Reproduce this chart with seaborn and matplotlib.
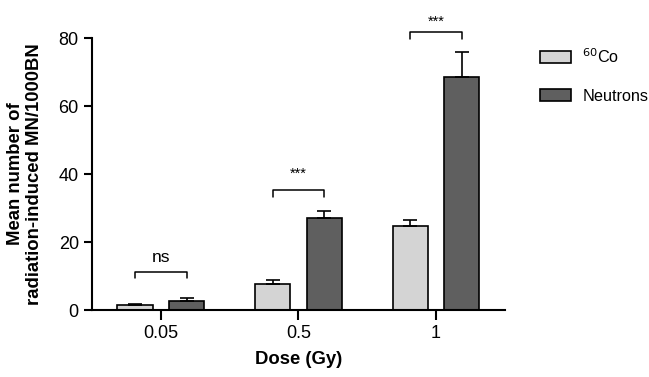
import numpy as np
import pandas as pd
import matplotlib
matplotlib.use("Agg")
import matplotlib.pyplot as plt
import seaborn as sns

# values
doses = ["0.05", "0.5", "1"]
sources = ["$^{60}$Co", "Neutrons"]
co_mean = [1.5, 7.6, 24.7]
co_sem = [0.3, 1.2, 1.8]
neutron_mean = [2.7, 27.0, 68.5]
neutron_sem = [0.7, 2.0, 7.4]
significance = ["ns", "***", "***"]
bracket_y = [11.3, 35.3, 81.8]
label_y = [15.3, 42.1, 86.8]

sns.set_style("ticks")
plt.rcParams["font.family"] = ["Liberation Sans", "DejaVu Sans"]
plt.rcParams["text.color"] = "black"
plt.rcParams["axes.labelcolor"] = "black"
plt.rcParams["xtick.color"] = "black"
plt.rcParams["ytick.color"] = "black"

df = pd.DataFrame({
    "dose": doses * 2,
    "source": [sources[0]] * 3 + [sources[1]] * 3,
    "value": co_mean + neutron_mean,
})

fig = plt.figure(figsize=(6.49, 3.77), dpi=100)
ax = fig.add_axes([0.1418, 0.1777, 0.636, 0.7215])

sns.barplot(data=df, x="dose", y="value", hue="source", order=doses,
            hue_order=sources, palette=["#d4d4d4", "#5f5f5f"],
            errorbar=None, width=0.75, gap=0.32, edgecolor="black",
            linewidth=1.2, saturation=1, ax=ax)

# one-sided error bars (upward only)
for cont, err in zip(ax.containers, [co_sem, neutron_sem]):
    xs = [p.get_x() + p.get_width() / 2 for p in cont.patches]
    hs = [p.get_height() for p in cont.patches]
    ax.errorbar(xs, hs, yerr=[np.zeros(len(err)), err], fmt="none",
                ecolor="black", elinewidth=1.2, capsize=5, capthick=1.2,
                zorder=1)

# significance brackets
c0 = [p.get_x() + p.get_width() / 2 for p in ax.containers[0].patches]
c1 = [p.get_x() + p.get_width() / 2 for p in ax.containers[1].patches]
for x0, x1, y, ty, lab in zip(c0, c1, bracket_y, label_y, significance):
    ax.plot([x0, x0, x1, x1], [y - 2.0, y, y, y - 2.0], color="black",
            lw=1.1, clip_on=False)
    ax.text((x0 + x1) / 2, ty, lab, ha="center",
            va="center" if lab == "ns" else "top",
            fontsize=12.5 if lab == "ns" else 10.5, clip_on=False)

ax.set_xlim(-0.5, 2.5)
ax.set_ylim(0, 80)
ax.set_yticks([0, 20, 40, 60, 80])
ax.tick_params(axis="both", labelsize=13, width=1.5, length=6)
ax.tick_params(axis="x", length=7)
for s in ["left", "bottom"]:
    ax.spines[s].set_linewidth(1.5)
    ax.spines[s].set_color("black")
sns.despine(ax=ax)
ax.set_xlabel("Dose (Gy)", fontsize=13.3, fontweight="bold", labelpad=7)
ax.set_ylabel("Mean number of\nradiation-induced MN/1000BN", fontsize=13.3,
              fontweight="bold", labelpad=11)

leg = ax.legend(loc="upper left", bbox_to_anchor=(1.05, 1.02), frameon=False,
                fontsize=11.7, handlelength=1.9, handleheight=0.8,
                labelspacing=1.4, handletextpad=0.7)

plt.savefig("out.png", dpi=100)
